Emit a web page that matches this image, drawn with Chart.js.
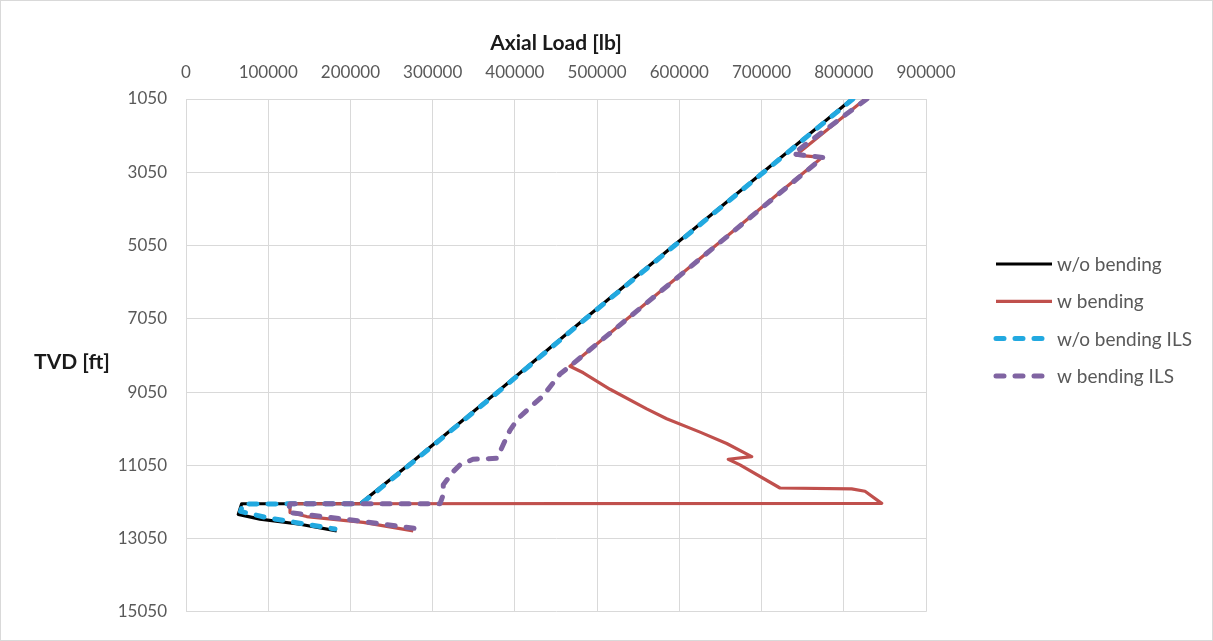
<!DOCTYPE html>
<html>
<head>
<meta charset="utf-8">
<script src="https://cdn.jsdelivr.net/npm/chart.js@4.4.1/dist/chart.umd.min.js"></script>
<style>
  html, body { margin: 0; padding: 0; background: #ffffff; }
  #wrap { width: 1213px; height: 641px; position: relative; }
</style>
</head>
<body>
<div id="wrap"><canvas id="chart" width="1213" height="641"></canvas></div>
<script>
// Axis ticks
const loadTicks = [0, 100000, 200000, 300000, 400000, 500000, 600000, 700000, 800000, 900000];
const tvdTicks = [1050, 3050, 5050, 7050, 9050, 11050, 13050, 15050];

// Axis titles and series names
const xTitle = 'Axial Load [lb]';
const yTitle = 'TVD [ft]';
const seriesNames = ['w/o bending', 'w bending', 'w/o bending ILS', 'w bending ILS'];

// w/o bending
const woBendLoad = [810000, 701700, 593300, 485000, 378500, 270100, 211600, 67700, 63600, 90000, 138600, 183300];
const woBendTvd  = [1050, 3050, 5050, 7050, 9050, 11050, 12100, 12100, 12390, 12520, 12660, 12840];

// w bending
const wBendLoad = [826000, 742000, 773500, 467000, 483200, 515700, 560300, 584600, 625200, 657600, 688000,
                   659500, 673800, 722400, 809600, 825800, 846100, 126500, 126500, 146800, 215600, 276400];
const wBendTvd  = [1050, 2580, 2645, 8345, 8525, 8975, 9510, 9780, 10145, 10455, 10815,
                   10885, 11040, 11670, 11695, 11760, 12090, 12100, 12340, 12450, 12610, 12840];

// w/o bending ILS
const woBendIlsLoad = [811000, 702500, 594300, 486000, 379500, 271200, 213000, 69300, 66300, 98100, 181200];
const woBendIlsTvd  = [1050, 3050, 5050, 7050, 9050, 11050, 12100, 12105, 12310, 12480, 12790];

// w bending ILS
const wBendIlsLoad = [828000, 738200, 774700, 467000, 454900, 434200, 418400, 403800, 394000, 390000, 381900,
                      377900, 349000, 333200, 325100, 312900, 312900, 308900, 126500, 124000, 195400, 278500];
const wBendIlsTvd  = [1050, 2550, 2645, 8345, 8560, 9155, 9470, 9775, 10095, 10280, 10680,
                      10860, 10885, 11040, 11220, 11580, 11850, 12100, 12100, 12335, 12525, 12775];

const FONT = 'Lato, "Open Sans", "DejaVu Sans", sans-serif';
const GRID = '#d9d9d9';
const TEXT = '#595959';

const toPoints = (xs, ys) => xs.map((x, i) => ({ x: x, y: ys[i] }));

const seriesData = [
  toPoints(woBendLoad, woBendTvd),
  toPoints(wBendLoad, wBendTvd),
  toPoints(woBendIlsLoad, woBendIlsTvd),
  toPoints(wBendIlsLoad, wBendIlsTvd)
];

const seriesStyle = [
  { color: '#000000', width: 3.2, dash: [] },
  { color: '#C0504D', width: 3.2, dash: [] },
  { color: '#22A9E0', width: 5,   dash: [8, 11] },
  { color: '#8064A2', width: 5,   dash: [8, 11] }
];

const datasets = seriesData.map((pts, i) => ({
  label: seriesNames[i],
  data: pts,
  showLine: true,
  fill: false,
  tension: 0,
  pointRadius: 0,
  pointHoverRadius: 0,
  borderColor: seriesStyle[i].color,
  borderWidth: seriesStyle[i].width,
  borderDash: seriesStyle[i].dash,
  borderCapStyle: seriesStyle[i].dash.length ? 'round' : 'butt',
  borderJoinStyle: 'round',
  order: 4 - i
}));

// Axis titles, legend and outer frame
const decorPlugin = {
  id: 'decor',
  afterDraw(chart) {
    const ctx = chart.ctx;
    const area = chart.chartArea;
    ctx.save();
    ctx.strokeStyle = GRID;
    ctx.lineWidth = 1;
    ctx.strokeRect(0.5, 0.5, chart.width - 1, chart.height - 1);

    ctx.fillStyle = '#1a1a1a';
    ctx.font = 'bold 21px ' + FONT;
    ctx.textAlign = 'center';
    ctx.textBaseline = 'middle';
    ctx.fillText(xTitle, (area.left + area.right) / 2, 43);
    ctx.fillText(yTitle, 72, 362);

    chart.data.datasets.forEach((ds, i) => {
      const y = 264 + i * 37.3;
      ctx.beginPath();
      ctx.setLineDash(ds.borderDash || []);
      ctx.lineCap = ds.borderCapStyle;
      ctx.strokeStyle = ds.borderColor;
      ctx.lineWidth = ds.borderWidth;
      ctx.moveTo(996, y);
      ctx.lineTo(1052, y);
      ctx.stroke();
      ctx.setLineDash([]);
      ctx.fillStyle = TEXT;
      ctx.font = '19px ' + FONT;
      ctx.textAlign = 'left';
      ctx.fillText(ds.label, 1057, y + 1);
    });
    ctx.restore();
  }
};

new Chart(document.getElementById('chart'), {
  type: 'scatter',
  data: { datasets: datasets },
  plugins: [decorPlugin],
  options: {
    responsive: false,
    animation: false,
    devicePixelRatio: 1,
    layout: { padding: { left: 0, top: 0, right: 287, bottom: 22 } },
    plugins: {
      legend: { display: false },
      tooltip: { enabled: false },
      title: { display: false }
    },
    scales: {
      x: {
        type: 'linear',
        position: 'top',
        min: loadTicks[0],
        max: loadTicks[loadTicks.length - 1],
        afterBuildTicks: s => { s.ticks = loadTicks.map(v => ({ value: v })); },
        afterFit: s => { s.height = 99; },
        grid: { color: GRID, lineWidth: 1, drawTicks: false },
        border: { color: GRID },
        ticks: {
          padding: 16,
          color: TEXT,
          font: { family: FONT, size: 17 },
          maxRotation: 0,
          autoSkip: false,
          callback: v => String(v)
        }
      },
      y: {
        type: 'linear',
        reverse: true,
        min: tvdTicks[0],
        max: tvdTicks[tvdTicks.length - 1],
        afterBuildTicks: s => { s.ticks = tvdTicks.map(v => ({ value: v })); },
        afterFit: s => { s.width = 186; },
        grid: { color: GRID, lineWidth: 1, drawTicks: false },
        border: { color: GRID },
        ticks: {
          padding: 19,
          color: TEXT,
          font: { family: FONT, size: 17 },
          autoSkip: false,
          callback: v => String(v)
        }
      }
    }
  }
});
</script>
</body>
</html>
